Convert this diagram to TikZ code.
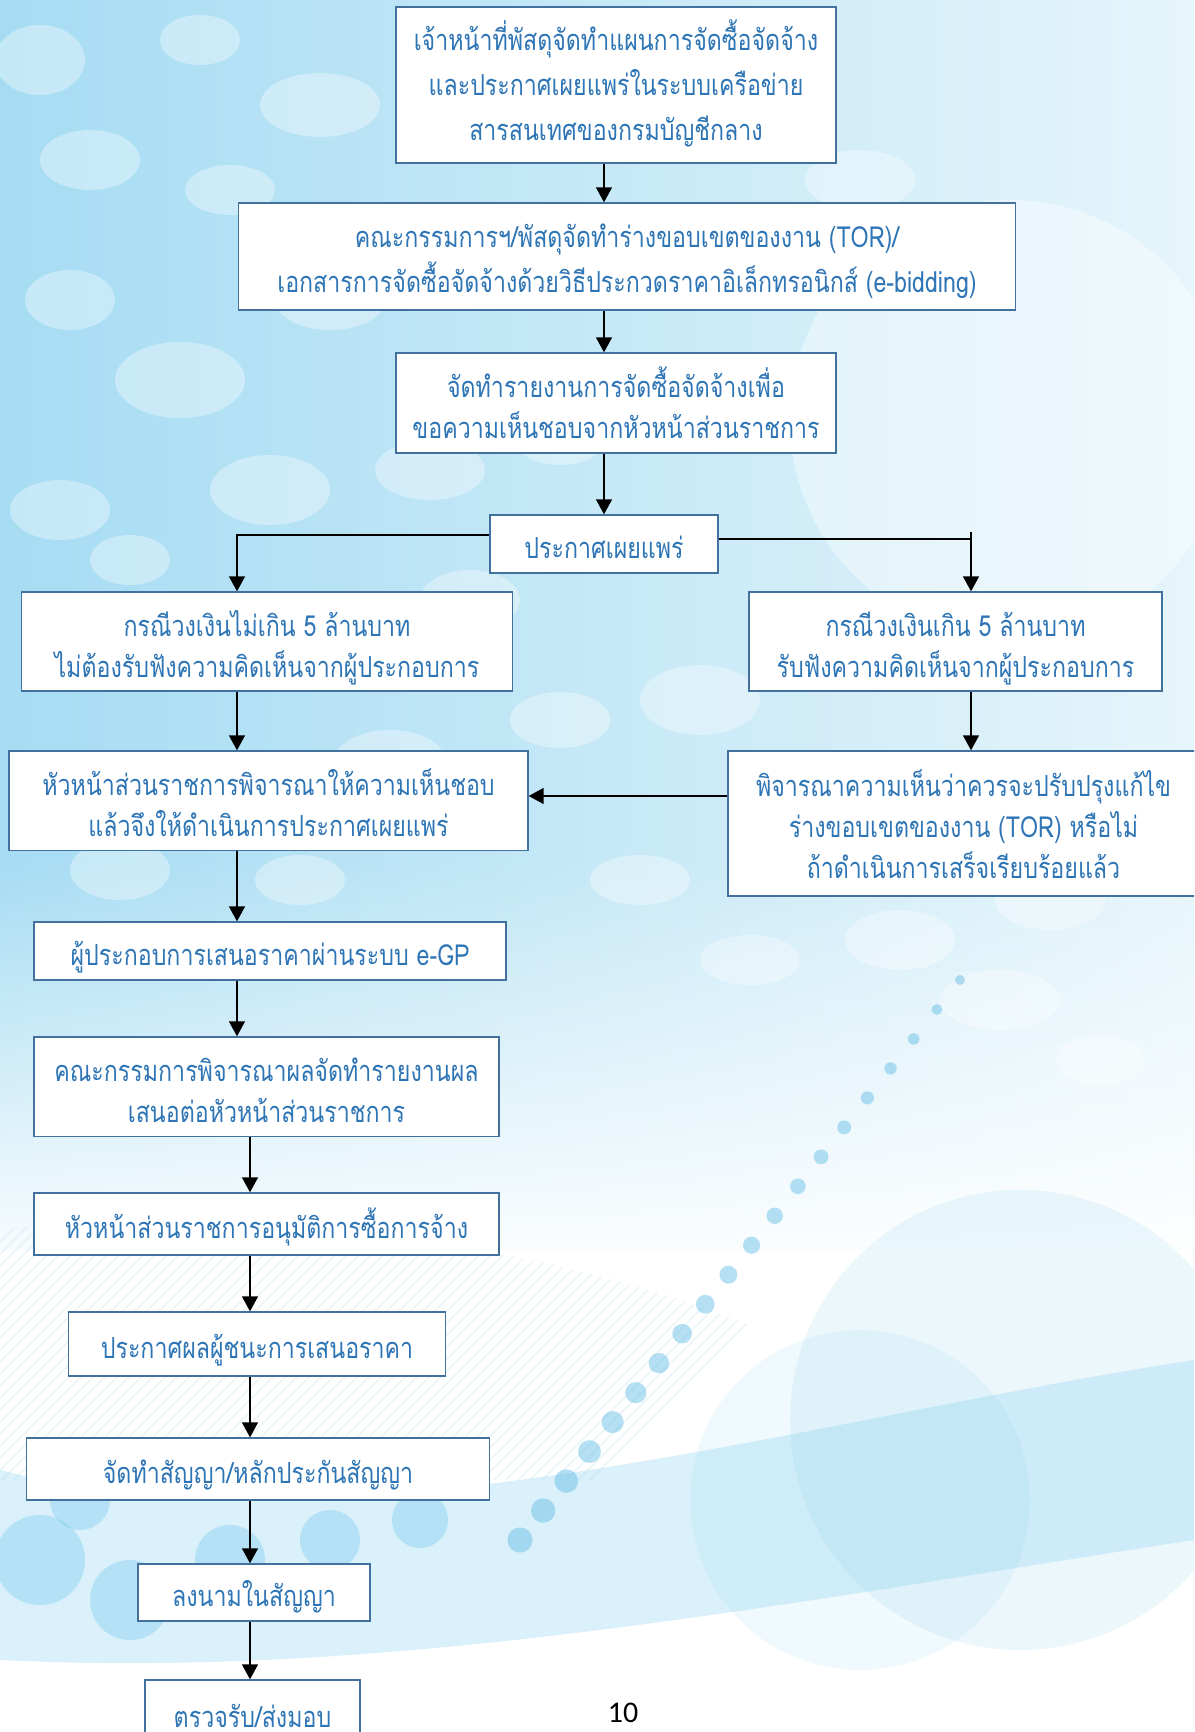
\documentclass[tikz,border=0pt]{standalone}
\usepackage{fontspec}
\newfontfamily\thai[Script=Thai, FakeStretch=0.8]{Loma}
\newfontfamily\pnum{Carlito}
\usetikzlibrary{arrows.meta,fadings,calc}
\definecolor{txt}{HTML}{2E75B6}
\definecolor{boxc}{HTML}{41719C}
\definecolor{bgL}{HTML}{A6DCF3}
\definecolor{bgM}{HTML}{86D0F0}
\definecolor{bgR}{HTML}{E6F5FB}
\definecolor{dotc}{HTML}{5DBBE6}
\definecolor{hatch}{HTML}{CFE6F2}
\tikzfading[name=fadedown, top color=transparent!100, bottom color=transparent!0]
\tikzset{
  box/.style={draw=boxc, line width=0.7pt, fill=white, text=txt, align=center, inner sep=0pt,
    font=\thai\fontsize{14.5}{20.5}\selectfont, text height=15.4pt, text depth=1pt},
  two/.style={text height=37pt},
  three/.style={text height=56.4pt},
  tall/.style={font=\thai\fontsize{14.5}{22.5}\selectfont},
  talltwo/.style={tall, text height=36.8pt},
  tallthree/.style={tall, text height=57pt},
  sz/.style 2 args={minimum width=#1*0.5pt, minimum height=#2*0.5pt},
  arr/.style={draw=black, line width=0.75pt, -{Triangle[length=7.5pt,width=8pt]}},
  ln/.style={draw=black, line width=0.75pt},
  bub/.style={fill=white, opacity=0.35},
}
\begin{document}
\begin{tikzpicture}[x=0.5pt,y=-0.5pt]
\clip (0,0) rectangle (1194,1732);
% ---------- background ----------
\fill[white] (0,0) rectangle (1194,1732);
\shade[left color=bgL, middle color=bgM, right color=bgR] (0,0) rectangle (1194,1250);
\fill[white, path fading=fadedown] (0,860) rectangle (1194,1280);
\fill[white] (0,1279) rectangle (1194,1732);
\begin{scope}
  \clip (0,1230) .. controls (300,1200) and (600,1260) .. (760,1330)
    -- (760,1480) -- (0,1480) -- cycle;
  \foreach \k in {0,...,70}
    \draw[hatch, line width=1pt, opacity=0.35] (\k*12-250,1480) -- (\k*12+30,1200);
\end{scope}
\fill[white, opacity=0.4] (1010,420) circle[radius=220];
\fill[bgM, opacity=0.15] (1020,1420) circle[radius=230];
\fill[bgM, opacity=0.12] (860,1500) circle[radius=170];
\fill[bgM, opacity=0.3] (0,1470) .. controls (350,1560) and (800,1420) .. (1194,1360)
  -- (1194,1540) .. controls (800,1600) and (400,1680) .. (0,1660) -- cycle;
\foreach \x/\y/\r in {40/1560/45,130/1600/40,230/1560/35,330/1540/30,420/1520/28,80/1500/30}
  \fill[bgM, opacity=0.45] (\x,\y) circle[radius=\r];
\foreach \x/\y/\a/\b in {40/60/45/35, 200/40/40/25, 320/105/60/32, 90/160/50/30, 230/190/45/25,
  380/240/55/30, 180/380/65/38, 330/300/55/30, 70/300/45/30, 270/490/60/35, 60/510/50/30,
  430/470/55/30, 130/560/40/25, 560/440/45/25, 470/600/50/30, 700/700/60/35, 560/720/50/28,
  390/760/55/30, 120/870/50/30, 300/880/45/25, 640/880/50/25, 820/780/55/30, 900/940/55/30,
  1050/900/55/30, 1000/1000/60/30, 750/960/50/25, 1100/1060/45/25, 600/60/50/28, 860/180/55/30}
  \fill[bub] (\x,\y) ellipse[x radius=\a, y radius=\b];
\foreach \i in {0,...,19}
  \fill[dotc, opacity=0.45] ($(960,980)!\i/19!(520,1540)$) circle[radius=5+\i*0.4];
% ---------- columns ----------
\coordinate (cA) at (604,0);
\coordinate (cL) at (237,0);
\coordinate (cC) at (250,0);
\coordinate (cR) at (971,0);
\coordinate (yL) at (0,535);
\coordinate (yR) at (0,539);
\coordinate (yK) at (0,532);
\coordinate (yT) at (0,796);
% ---------- nodes ----------
\node[box, tallthree, sz={440}{156}] (b1) at (616,85)
  {เจ้าหน้าที่พัสดุจัดทำแผนการจัดซื้อจัดจ้าง\\และประกาศเผยแพร่ในระบบเครือข่าย\\สารสนเทศของกรมบัญชีกลาง};
\node[box, talltwo, sz={777}{107}] (b2) at (627,256.5)
  {คณะกรรมการฯ/พัสดุจัดทำร่างขอบเขตของงาน (TOR)/\\เอกสารการจัดซื้อจัดจ้างด้วยวิธีประกวดราคาอิเล็กทรอนิกส์ (e-bidding)};
\node[box, two, sz={440}{100}] (b3) at (616,403)
  {จัดทำรายงานการจัดซื้อจัดจ้างเพื่อ\\ขอความเห็นชอบจากหัวหน้าส่วนราชการ};
\node[box, sz={228}{58}] (b4) at (604,544) {ประกาศเผยแพร่};
\node[box, two, sz={491}{99}] (b5l) at (267,641.5)
  {กรณีวงเงินไม่เกิน 5 ล้านบาท\\ไม่ต้องรับฟังความคิดเห็นจากผู้ประกอบการ};
\node[box, two, sz={413}{99}] (b5r) at (955.5,641.5)
  {กรณีวงเงินเกิน 5 ล้านบาท\\รับฟังความคิดเห็นจากผู้ประกอบการ};
\node[box, two, sz={519}{99.5}] (b6l) at (268.5,800.75)
  {หัวหน้าส่วนราชการพิจารณาให้ความเห็นชอบ\\แล้วจึงให้ดำเนินการประกาศเผยแพร่};
\node[box, three, sz={471}{145}] (b6r) at (963.5,823.5)
  {พิจารณาความเห็นว่าควรจะปรับปรุงแก้ไข\\ร่างขอบเขตของงาน (TOR) หรือไม่\\ถ้าดำเนินการเสร็จเรียบร้อยแล้ว};
\node[box, sz={472}{58}] (b7) at (270,951) {ผู้ประกอบการเสนอราคาผ่านระบบ e-GP};
\node[box, two, sz={465}{99.5}] (b8) at (266.5,1086.75)
  {คณะกรรมการพิจารณาผลจัดทำรายงานผล\\เสนอต่อหัวหน้าส่วนราชการ};
\node[box, sz={465}{62}] (b9) at (266.5,1224) {หัวหน้าส่วนราชการอนุมัติการซื้อการจ้าง};
\node[box, sz={377.5}{64}] (b10) at (257,1344) {ประกาศผลผู้ชนะการเสนอราคา};
\node[box, sz={463}{62}] (b11) at (258,1469) {จัดทำสัญญา/หลักประกันสัญญา};
\node[box, sz={232}{57}] (b12) at (254,1592.5) {ลงนามในสัญญา};
\node[box, sz={215}{66}] (b13) at (252.5,1713) {ตรวจรับ/ส่งมอบ};
\node[font=\pnum\fontsize{15}{18}\selectfont, text=black] (pg) at (623,1713) {10};
% ---------- connectors ----------
\draw[arr] (b1.south -| cA) -- (b2.north -| cA);
\draw[arr] (b2.south -| cA) -- (b3.north -| cA);
\draw[arr] (b3.south -| cA) -- (b4.north -| cA);
\draw[arr] (b4.west |- yL) -| (b5l.north -| cL);
\draw[ln] (b4.east |- yR) -- (cR |- yR);
\draw[arr] (cR |- yK) -- (b5r.north -| cR);
\draw[arr] (b5l.south -| cL) -- (b6l.north -| cL);
\draw[arr] (b5r.south -| cR) -- (b6r.north -| cR);
\draw[arr] (b6r.west |- yT) -- (b6l.east |- yT);
\draw[arr] (b6l.south -| cL) -- (b7.north -| cL);
\draw[arr] (b7.south -| cL) -- (b8.north -| cL);
\draw[arr] (b8.south -| cC) -- (b9.north -| cC);
\draw[arr] (b9.south -| cC) -- (b10.north -| cC);
\draw[arr] (b10.south -| cC) -- (b11.north -| cC);
\draw[arr] (b11.south -| cC) -- (b12.north -| cC);
\draw[arr] (b12.south -| cC) -- (b13.north -| cC);
\end{tikzpicture}
\end{document}
